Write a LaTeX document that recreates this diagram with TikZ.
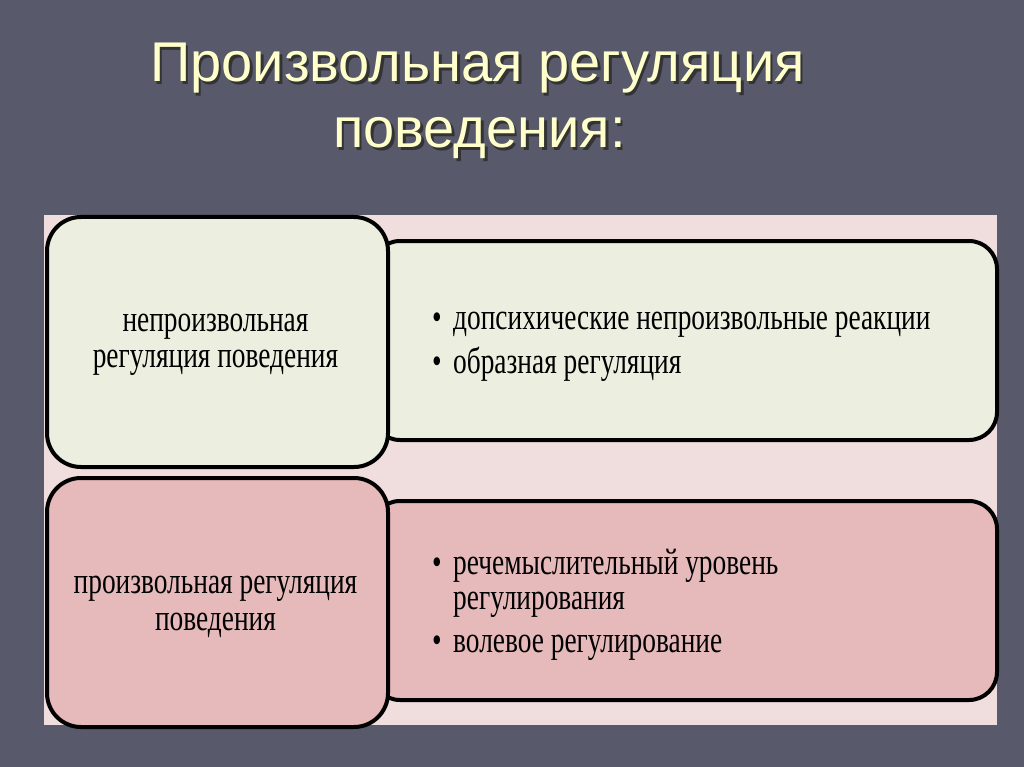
\documentclass[tikz,border=0pt]{standalone}
\usepackage{fontspec}
\setmainfont{Liberation Serif}
\newfontfamily\titlefont{Liberation Sans}
\newfontfamily\bodyfont[FakeStretch=0.74]{Liberation Serif}
\definecolor{bgcol}{HTML}{585A6B}
\definecolor{panelcol}{HTML}{F0DDDE}
\definecolor{topfill}{HTML}{ECEEDF}
\definecolor{botfill}{HTML}{E6B9BA}
\definecolor{titlecol}{HTML}{FFFFCC}
\newcommand{\shadowtext}[1]{\rlap{\hspace{2.5pt}\raisebox{-2.5pt}{\textcolor{black!80}{#1}}}\textcolor{titlecol}{#1}}
\tikzset{
  box/.style={draw=black, line width=4pt, rounded corners=34pt, inner sep=0pt},
  rbox/.style={draw=black, line width=4pt, rounded corners=28pt, inner sep=0pt},
  lbl/.style={inner sep=0pt, font=\bodyfont\fontsize{37}{37}\selectfont, text=black},
  ttl/.style={inner sep=0pt, font=\titlefont\fontsize{56}{56}\selectfont},
}
\begin{document}
\begin{tikzpicture}[x=1pt,y=-1pt]
\fill[bgcol] (0,0) rectangle (1024,767);
\useasboundingbox (0,0) rectangle (1024,767);
% title
\node[ttl, anchor=base west] (t1) at (150,82) {\shadowtext{Произвольная регуляция}};
\node[ttl, anchor=base west] (t2) at (333,148) {\shadowtext{поведения:}};
% panel
\node[fill=panelcol, inner sep=0pt, minimum width=953pt, minimum height=510pt, anchor=north west] (panel) at (44,215) {};
% top row
\node[rbox, fill=topfill, minimum width=625pt, minimum height=199pt, anchor=north west] (tr) at (370,239) {};
\node[box, fill=topfill, minimum width=341pt, minimum height=250pt, anchor=north west] (tl) at (45,215) {};
% bottom row
\node[rbox, fill=botfill, minimum width=625pt, minimum height=199pt, anchor=north west] (br) at (370,499) {};
\node[box, fill=botfill, minimum width=341pt, minimum height=249pt, anchor=north west] (bl) at (45,476) {};
% left texts
\node[lbl, anchor=base] (tl1) at (215.5,331) {непроизвольная};
\node[lbl, anchor=base] (tl2) at (215.5,367) {регуляция поведения};
\node[lbl, anchor=base] (bl1) at (215.5,593) {произвольная регуляция};
\node[lbl, anchor=base] (bl2) at (215.5,630) {поведения};
% right texts
\node[lbl, anchor=base west] (tr1) at (432,329) {\makebox[21pt][l]{•}допсихические непроизвольные реакции};
\node[lbl, anchor=base west] (tr2) at (432,373) {\makebox[21pt][l]{•}образная регуляция};
\node[lbl, anchor=base west] (br1) at (432,574) {\makebox[21pt][l]{•}речемыслительный уровень};
\node[lbl, anchor=base west] (br2) at (432,609) {\hspace*{21pt}регулирования};
\node[lbl, anchor=base west] (br3) at (432,652) {\makebox[21pt][l]{•}волевое регулирование};
\end{tikzpicture}
\end{document}
